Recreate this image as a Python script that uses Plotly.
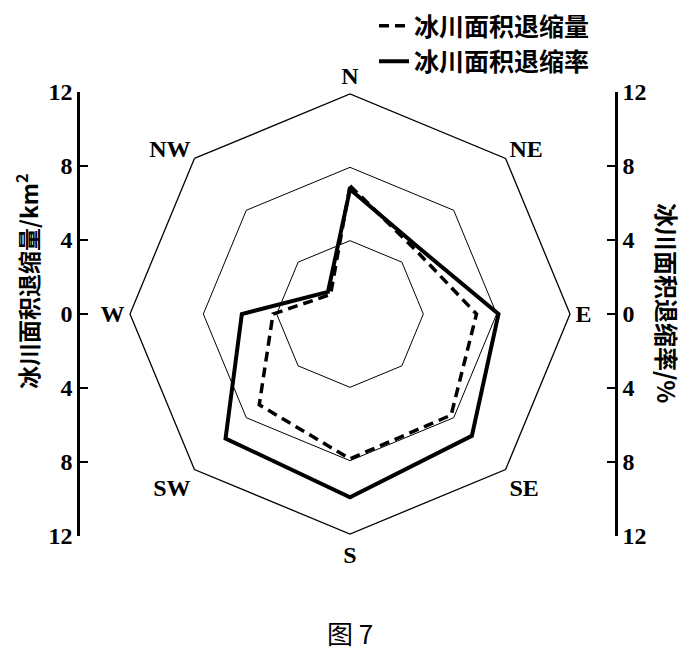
import plotly.graph_objects as go

# directions around the radar, clockwise from north
directions = ["N", "NE", "E", "SE", "S", "SW", "W", "NW"]

# glacier area retreat (km2) - dashed
area_loss = [7.0, 5.0, 6.9, 7.8, 7.9, 7.0, 4.2, 1.5]
# glacier area retreat rate (%) - solid
rate_loss = [6.8, 5.2, 8.1, 9.4, 10.0, 9.6, 5.9, 1.7]

grid_vals = [4, 8, 12]
side_vals = [-12, -8, -4, 0, 4, 8, 12]
side_text = ["12", "8", "4", "0", "4", "8", "12"]

W, H = 692, 657
OFF = 8  # page body margin the browser adds around the plot div
CJK = "Noto Sans CJK SC"
SERIF = "Liberation Serif"


def px(x):
    return (x - OFF) / W


def py(y):
    return 1 - (y - OFF) / H


def closed(vals):
    return list(vals) + [vals[0]]


fig = go.Figure()

fig.add_trace(go.Scatterpolar(
    r=closed(area_loss),
    theta=closed(directions),
    mode="lines",
    name="冰川面积退缩量",
    line=dict(color="black", width=3.5, dash="10px,6px"),
))

fig.add_trace(go.Scatterpolar(
    r=closed(rate_loss),
    theta=closed(directions),
    mode="lines",
    name="冰川面积退缩率",
    line=dict(color="black", width=4),
))

# empty traces so the two side scales get drawn
fig.add_trace(go.Scatter(x=[None], y=[None], xaxis="x", yaxis="y", showlegend=False))
fig.add_trace(go.Scatter(x=[None], y=[None], xaxis="x", yaxis="y2", showlegend=False))

y_dom = [py(536), py(92)]

side_axis = dict(
    range=[-12, 12],
    domain=y_dom,
    tickvals=side_vals,
    ticktext=side_text,
    ticks="inside",
    ticklen=8,
    tickwidth=2,
    tickcolor="black",
    showline=True,
    linecolor="black",
    linewidth=2.5,
    showgrid=False,
    zeroline=False,
    tickfont=dict(family=SERIF, size=24, color="black", weight="bold"),
)

fig.update_layout(
    width=W,
    height=H,
    margin=dict(l=0, r=0, t=0, b=0, autoexpand=False),
    paper_bgcolor="white",
    plot_bgcolor="rgba(0,0,0,0)",
    showlegend=True,
    polar=dict(
        domain=dict(x=[px(130), px(570)], y=y_dom),
        bgcolor="rgba(0,0,0,0)",
        gridshape="linear",
        radialaxis=dict(
            range=[0, 12],
            tickvals=grid_vals,
            showticklabels=False,
            ticks="",
            showline=False,
            gridcolor="black",
            gridwidth=1.3,
        ),
        angularaxis=dict(
            rotation=90,
            direction="clockwise",
            showgrid=False,
            showline=True,
            linecolor="black",
            linewidth=1.3,
            ticks="",
            tickfont=dict(family=SERIF, size=24, color="black", weight="bold"),
        ),
    ),
    xaxis=dict(domain=[px(80), px(615)], visible=False, range=[0, 1]),
    yaxis=dict(side="left", **side_axis),
    yaxis2=dict(side="right", overlaying="y", anchor="x", **side_axis),
    legend=dict(
        x=px(374),
        y=py(3),
        xanchor="left",
        yanchor="top",
        bgcolor="rgba(0,0,0,0)",
        font=dict(family=CJK, size=25, color="black", weight="bold"),
        tracegroupgap=0,
    ),
    annotations=[
        dict(
            text="冰川面积退缩量/km<sup>2</sup>",
            x=px(27), y=py(282),
            xref="paper", yref="paper",
            xanchor="center", yanchor="middle",
            textangle=-90, showarrow=False,
            font=dict(family=CJK, size=23, color="black", weight="bold"),
        ),
        dict(
            text="冰川面积退缩率/%",
            x=px(667), y=py(303),
            xref="paper", yref="paper",
            xanchor="center", yanchor="middle",
            textangle=90, showarrow=False,
            font=dict(family=CJK, size=24, color="black", weight="bold"),
        ),
        dict(
            text="图 7",
            x=px(350), y=py(632),
            xref="paper", yref="paper",
            xanchor="center", yanchor="middle",
            showarrow=False,
            font=dict(family=CJK, size=26, color="black"),
        ),
    ],
)

fig.write_html("out.html")
